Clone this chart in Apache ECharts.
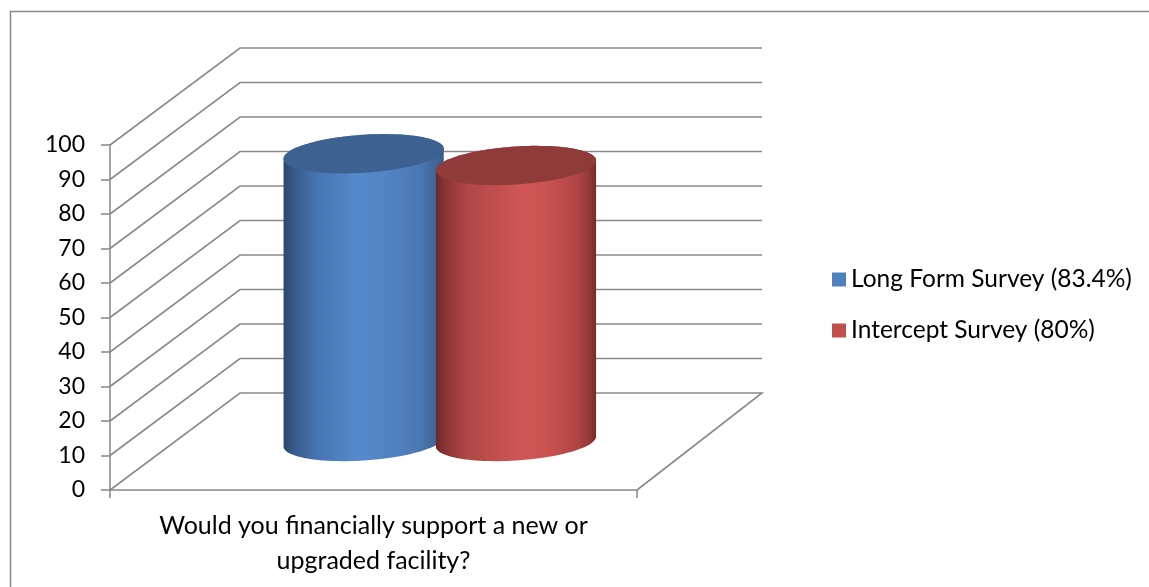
<!DOCTYPE html>
<html><head><meta charset="utf-8">
<script src="https://cdn.jsdelivr.net/npm/echarts@6.0.0/dist/echarts.min.js"></script>
<style>html,body{margin:0;padding:0;background:#fff}#c{width:1149px;height:587px}</style>
</head><body><div id="c"></div>
<script>
// ---- data ----
const categories = ['Would you financially support a new or\nupgraded facility?'];
const seriesNames = ['Long Form Survey (83.4%)', 'Intercept Survey (80%)'];
const longFormValues = [83.4];
const interceptValues = [80];
const yTicks = [0, 10, 20, 30, 40, 50, 60, 70, 80, 90, 100];

// ---- styling / layout constants ----
const DX = 130, DY = -97;          // oblique depth offset (left edge)
const BACK_SHRINK = 5;             // slight perspective at the right back edge
const HALF = 0.152;                // cylinder half width as fraction of band
const EB = 19;                     // ellipse minor semi-axis
const SHEAR = 0.0625;              // ellipse tilt
const GRID_COLOR = '#8a8a8a';
const FONT = 'Lato';

const chart = echarts.init(document.getElementById('c'), null, {renderer: 'canvas'});

function wallItem(params, api) {
  const v = api.value(1);
  const c = api.coord([0, v]);
  const bw = api.size([1, 0])[0];
  const xl = c[0] - bw / 2, xr = c[0] + bw / 2;
  const pts = [[xl, c[1]], [xl + DX, c[1] + DY], [xr + DX - BACK_SHRINK, c[1] + DY]];
  if (v === 0) pts.push([xr, c[1]]);
  return {type: 'polyline', shape: {points: pts}, style: {stroke: GRID_COLOR, lineWidth: 1.6, fill: null}};
}

function cylinder(offsetFrac, stops, topColor) {
  return function (params, api) {
    const v = api.value(1);
    const top = api.coord([api.value(0), v]);
    const base = api.coord([api.value(0), 0]);
    const bw = api.size([1, 0])[0];
    const cx = top[0] + offsetFrac * bw + DX / 2;
    const cyT = top[1] + DY / 2, cyB = base[1] + DY / 2;
    const a = HALF * bw, b = EB, s = SHEAR;
    const pt = (cy, t) => [cx + a * Math.cos(t), cy + b * Math.sin(t) - s * a * Math.cos(t)];
    const N = 60, body = [], topPts = [];
    for (let i = 0; i <= N; i++) body.push(pt(cyB, Math.PI - Math.PI * i / N));
    for (let i = 0; i <= N; i++) body.push(pt(cyT, -Math.PI * i / N));
    for (let i = 0; i < 2 * N; i++) topPts.push(pt(cyT, Math.PI * i / N));
    return {
      type: 'group',
      children: [
        {type: 'polygon', shape: {points: body}, style: {fill: new echarts.graphic.LinearGradient(0, 0, 1, 0, stops)}},
        {type: 'polygon', shape: {points: topPts}, style: {fill: topColor}}
      ]
    };
  };
}

const blueStops = [
  {offset: 0, color: '#2b4769'}, {offset: 0.06, color: '#36598a'}, {offset: 0.2, color: '#4674b0'},
  {offset: 0.45, color: '#5589cb'}, {offset: 0.6, color: '#5386c6'}, {offset: 0.85, color: '#4a78b2'},
  {offset: 0.95, color: '#3f6698'}, {offset: 1, color: '#355a88'}
];
const redStops = [
  {offset: 0, color: '#6b2828'}, {offset: 0.06, color: '#8a3433'}, {offset: 0.2, color: '#b04846'},
  {offset: 0.55, color: '#d05756'}, {offset: 0.7, color: '#c95351'}, {offset: 0.88, color: '#b04645'},
  {offset: 0.96, color: '#8f3837'}, {offset: 1, color: '#742c2b'}
];

const option = {
  animation: false,
  backgroundColor: '#fff',
  graphic: [{type: 'rect', shape: {x: 10.5, y: 11.5, width: 1200, height: 700}, style: {fill: null, stroke: '#868686', lineWidth: 1.5}, silent: true}],
  grid: {left: 110, right: 512, top: 145, bottom: 97, containLabel: false, outerBoundsMode: 'none'},
  legend: {
    orient: 'vertical', left: 832, top: 267, padding: 0, itemWidth: 14, itemHeight: 14, itemGap: 26, icon: 'rect',
    textStyle: {fontFamily: FONT, fontSize: 24.5, color: '#000', lineHeight: 22},
    data: seriesNames
  },
  xAxis: {
    type: 'category', data: categories, boundaryGap: true,
    axisLine: {show: true, lineStyle: {color: '#868686', width: 1.5}},
    axisTick: {show: true, length: 8, alignWithLabel: false, lineStyle: {color: '#868686', width: 1.5}},
    axisLabel: {fontFamily: FONT, fontSize: 25, color: '#000', lineHeight: 35, margin: 18, interval: 0},
    splitLine: {show: false}
  },
  yAxis: {
    type: 'value', min: 0, max: 100, interval: 10,
    axisLine: {show: true, lineStyle: {color: '#868686', width: 1.5}},
    axisTick: {show: true, length: 9, lineStyle: {color: '#868686', width: 1.5}},
    axisLabel: {fontFamily: FONT, fontSize: 23, color: '#000', margin: 25},
    splitLine: {show: false}
  },
  series: [
    {type: 'custom', name: 'walls', silent: true, z: 1, clip: false, renderItem: wallItem,
     data: yTicks.map(v => [0, v])},
    {type: 'custom', name: seriesNames[0], z: 2, clip: false, itemStyle: {color: '#4f81bd'},
     renderItem: cylinder(-0.142, blueStops, '#3d6291'), data: longFormValues.map((v, i) => [i, v])},
    {type: 'custom', name: seriesNames[1], z: 3, clip: false, itemStyle: {color: '#c0504d'},
     renderItem: cylinder(0.147, redStops, '#8f3b39'), data: interceptValues.map((v, i) => [i, v])}
  ]
};
chart.setOption(option);
</script></body></html>
